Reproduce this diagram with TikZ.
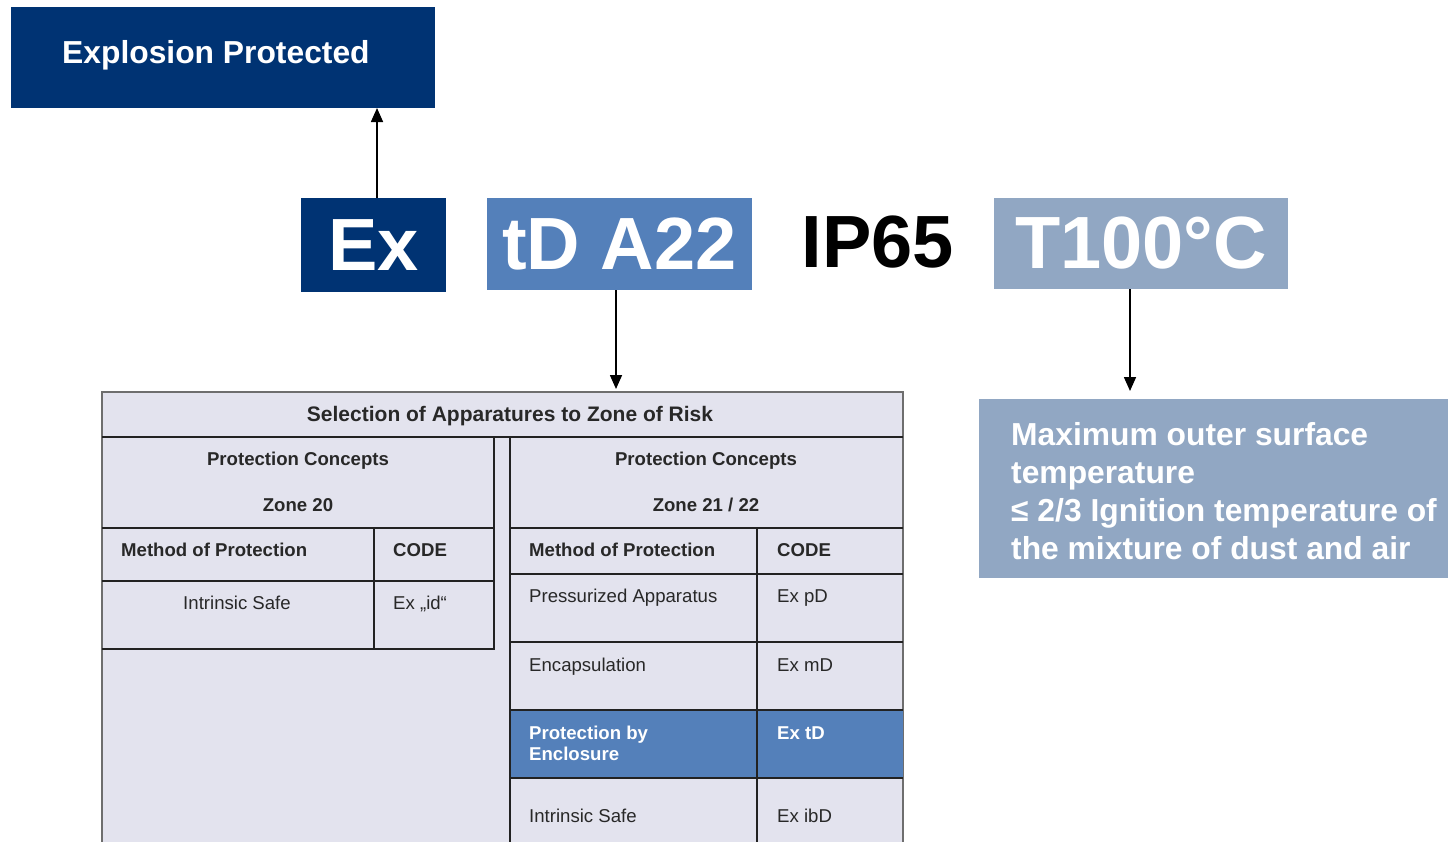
\documentclass[tikz,border=0pt]{standalone}
\usepackage{fontspec}
\setmainfont{Liberation Sans}
\usetikzlibrary{arrows.meta}
\definecolor{navy}{RGB}{0,51,115}
\definecolor{midblue}{RGB}{84,128,186}
\definecolor{greyblue}{RGB}{145,167,195}
\definecolor{tabfill}{RGB}{227,227,238}
\definecolor{tabtext}{RGB}{40,40,40}
\definecolor{tabline}{RGB}{34,34,34}
\definecolor{outline}{RGB}{110,110,110}
\begin{document}
\begin{tikzpicture}[x=1pt,y=-1pt,
  box/.style={inner sep=0pt, outer sep=0pt},
  bigtxt/.style={font=\fontsize{74}{80}\selectfont\bfseries},
  arr/.style={line width=1.6pt, -{Triangle[length=14pt,width=12pt]}},
  tl/.style={tabline, line width=1.2pt},
  hd/.style={font=\fontsize{18.6}{22}\selectfont\bfseries, text=tabtext, inner sep=0pt, anchor=base},
  bd/.style={font=\fontsize{18.6}{22}\selectfont, text=tabtext, inner sep=0pt, anchor=base},
]
\useasboundingbox (0,0) rectangle (1448,841);

% top boxes
\node[box, fill=navy, minimum width=424pt, minimum height=101pt, anchor=north west] (expl) at (11,7) {};
\node[anchor=west, inner sep=0pt, text=white, font=\fontsize{31.8}{36}\selectfont\bfseries] (expltxt) at (62,55) {Explosion Protected};

\node[box, fill=navy, minimum width=145pt, minimum height=94pt, text=white, bigtxt] (ex) at (373.5,245) {Ex};
\node[box, fill=midblue, minimum width=265pt, minimum height=92pt, text=white, bigtxt] (tda) at (619.5,244) {tD A22};
\node[box, text=black, bigtxt] (ip) at (878,242) {IP65};
\node[box, fill=greyblue, minimum width=294pt, minimum height=91pt, text=white, bigtxt] (temp) at (1141,243.5) {T100°C};

% info box
\node[box, fill=greyblue, minimum width=469pt, minimum height=179pt, anchor=north west] (info) at (979,399) {};
\node[anchor=north west, inner sep=0pt, align=left, text=white,
      font=\fontsize{31.8}{38.2}\selectfont\bfseries] (infotxt) at (1011,422)
 {Maximum outer surface\\temperature\\≤ 2/3 Ignition temperature of\\the mixture of dust and air};

% table
\fill[tabfill] (102,392) rectangle (903,843);
\coordinate (tbltop) at (616,392);
\draw[outline, line width=1.5pt] (102,843) -- (102,392) -- (903,392) -- (903,843);
\node[hd, font=\fontsize{21}{24}\selectfont\bfseries] (title) at (510,421.5) {Selection of Apparatures to Zone of Risk};
\draw[tl] (115,437) -- (903,437);

% left sub-table
\draw[tl] (102,437) -- (494,437) -- (494,649) -- (102,649);
\draw[tl] (102,528) -- (494,528);
\draw[tl] (102,581) -- (494,581);
\draw[tl] (374,528) -- (374,649);
\node[hd] (lpc) at (298,465) {Protection Concepts};
\node[hd] (lz) at (298,511) {Zone 20};
\node[hd, anchor=base west] (lmp) at (121,556) {Method of Protection};
\node[hd, anchor=base west] (lcode) at (393,556) {CODE};
\node[bd] (lis) at (237,609) {Intrinsic Safe};
\node[bd, anchor=base west] (lid) at (393,609) {Ex „id“};

% right sub-table
\fill[midblue] (510,710) rectangle (903,778);
\draw[tl] (510,843) -- (510,437);
\draw[tl] (510,528) -- (903,528);
\draw[tl] (510,574) -- (903,574);
\draw[tl] (510,642) -- (903,642);
\draw[tl] (510,710) -- (903,710);
\draw[tl] (510,778) -- (903,778);
\draw[tl] (757,528) -- (757,843);
\node[hd] (rpc) at (706,465) {Protection Concepts};
\node[hd] (rz) at (706,511) {Zone 21 / 22};
\node[hd, anchor=base west] (rmp) at (529,556) {Method of Protection};
\node[hd, anchor=base west] (rcode) at (777,556) {CODE};
\node[bd, anchor=base west] (rpa) at (529,602) {Pressurized Apparatus};
\node[bd, anchor=base west] (rpd) at (777,602) {Ex pD};
\node[bd, anchor=base west] (renc) at (529,671) {Encapsulation};
\node[bd, anchor=base west] (rmd) at (777,671) {Ex mD};
\node[hd, anchor=base west, text=white] (rpe1) at (529,739) {Protection by};
\node[hd, anchor=base west, text=white] (rpe2) at (529,760) {Enclosure};
\node[hd, anchor=base west, text=white] (rtd) at (777,739) {Ex tD};
\node[bd, anchor=base west] (ris) at (529,822) {Intrinsic Safe};
\node[bd, anchor=base west] (ribd) at (777,822) {Ex ibD};

% arrows
\draw[arr] ([xshift=3.5pt]ex.north) -- ([xshift=3.5pt]ex.north |- expl.south);
\draw[arr, shorten >=3pt] ([xshift=-3.5pt]tda.south) -- ([xshift=-3.5pt]tda.south |- tbltop);
\draw[arr, shorten >=8pt] ([xshift=-11pt]temp.south) -- ([xshift=-11pt]temp.south |- info.north);
\end{tikzpicture}
\end{document}
